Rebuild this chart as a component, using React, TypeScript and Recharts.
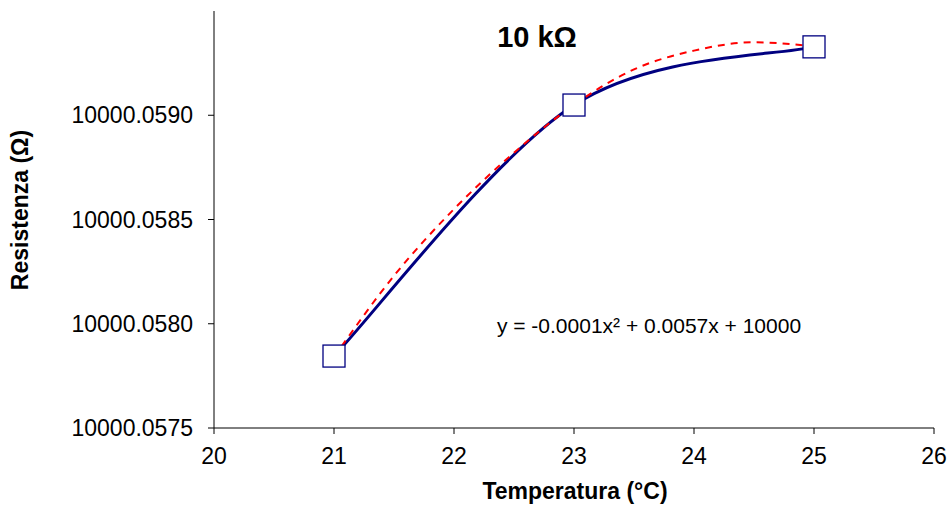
import React from "react";
import { LineChart, Line, XAxis, YAxis } from "recharts";

// measured points
const tempC = [21, 23, 25];
const resistance = [10000.057845, 10000.059049, 10000.059328];

// polynomial trendline
const trendTemp = [21, 21.5, 22, 22.5, 23, 23.5, 24, 24.5, 25];
const trendRes = [
  10000.05784, 10000.05823, 10000.05855, 10000.05882, 10000.05905, 10000.05922, 10000.05931,
  10000.05935, 10000.05933,
];

const xTicks = [20, 21, 22, 23, 24, 25, 26];
const yTicks = [10000.0575, 10000.058, 10000.0585, 10000.059];

const measured = tempC.map((t, i) => ({ t, r: resistance[i] }));
const trend = trendTemp.map((t, i) => ({ t, r: trendRes[i] }));

const FONT = "'Liberation Sans', Arial, sans-serif";

// Excel-like smoothed line (Catmull-Rom bezier)
const excelSmooth = (context: any) => {
  let pts: number[][] = [];
  return {
    areaStart() {},
    areaEnd() {},
    lineStart() {
      pts = [];
    },
    point(x: number, y: number) {
      pts.push([x, y]);
    },
    lineEnd() {
      if (!pts.length) return;
      context.moveTo(pts[0][0], pts[0][1]);
      for (let i = 0; i < pts.length - 1; i++) {
        const p0 = pts[Math.max(i - 1, 0)];
        const p1 = pts[i];
        const p2 = pts[i + 1];
        const p3 = pts[Math.min(i + 2, pts.length - 1)];
        context.bezierCurveTo(
          p1[0] + (p2[0] - p0[0]) / 6,
          p1[1] + (p2[1] - p0[1]) / 6,
          p2[0] - (p3[0] - p1[0]) / 6,
          p2[1] - (p3[1] - p1[1]) / 6,
          p2[0],
          p2[1]
        );
      }
    },
  };
};

const SquareDot = (props: any) => {
  const { cx, cy } = props;
  if (cx == null || cy == null) return null;
  return <rect x={cx - 11} y={cy - 11} width={22} height={22} fill="#fff" stroke="#000080" strokeWidth={1.3} />;
};

export default function App() {
  return (
    <div style={{ position: "absolute", left: 0, top: 0, background: "#fff" }}>
      <LineChart width={950} height={506} margin={{ top: 11, right: 16, left: 0, bottom: 0 }}>
        <XAxis
          dataKey="t"
          type="number"
          domain={[20, 26]}
          ticks={xTicks}
          allowDuplicatedCategory={false}
          height={78}
          stroke="#000"
          tickSize={6}
          tickMargin={14}
          tick={{ fill: "#000", fontSize: 23, fontFamily: FONT }}
        />
        <YAxis
          dataKey="r"
          type="number"
          domain={[10000.0575, 10000.0595]}
          ticks={yTicks}
          allowDataOverflow
          width={214}
          stroke="#000"
          tickSize={6}
          tickMargin={15}
          tickFormatter={(v: number) => v.toFixed(4)}
          tick={{ fill: "#000", fontSize: 23, fontFamily: FONT }}
        />
        <Line
          data={measured}
          dataKey="r"
          type={excelSmooth as any}
          stroke="#000080"
          strokeWidth={3}
          dot={<SquareDot />}
          activeDot={false}
          isAnimationActive={false}
        />
        <Line
          data={trend}
          dataKey="r"
          type="monotone"
          stroke="#ff0000"
          strokeWidth={2}
          strokeDasharray="7 6"
          dot={false}
          activeDot={false}
          isAnimationActive={false}
        />
        <text x={537} y={47} textAnchor="middle" fontFamily={FONT} fontSize={29} fontWeight="bold" fill="#000">
          10 kΩ
        </text>
        <text x={649} y={333} textAnchor="middle" fontFamily={FONT} fontSize={21} fill="#000">
          y = -0.0001x² + 0.0057x + 10000
        </text>
        <text x={575} y={499} textAnchor="middle" fontFamily={FONT} fontSize={23} fontWeight="bold" fill="#000">
          Temperatura (°C)
        </text>
        <text
          x={28}
          y={210}
          transform="rotate(-90 28 210)"
          textAnchor="middle"
          fontFamily={FONT}
          fontSize={23}
          fontWeight="bold"
          fill="#000"
        >
          Resistenza (Ω)
        </text>
      </LineChart>
    </div>
  );
}
